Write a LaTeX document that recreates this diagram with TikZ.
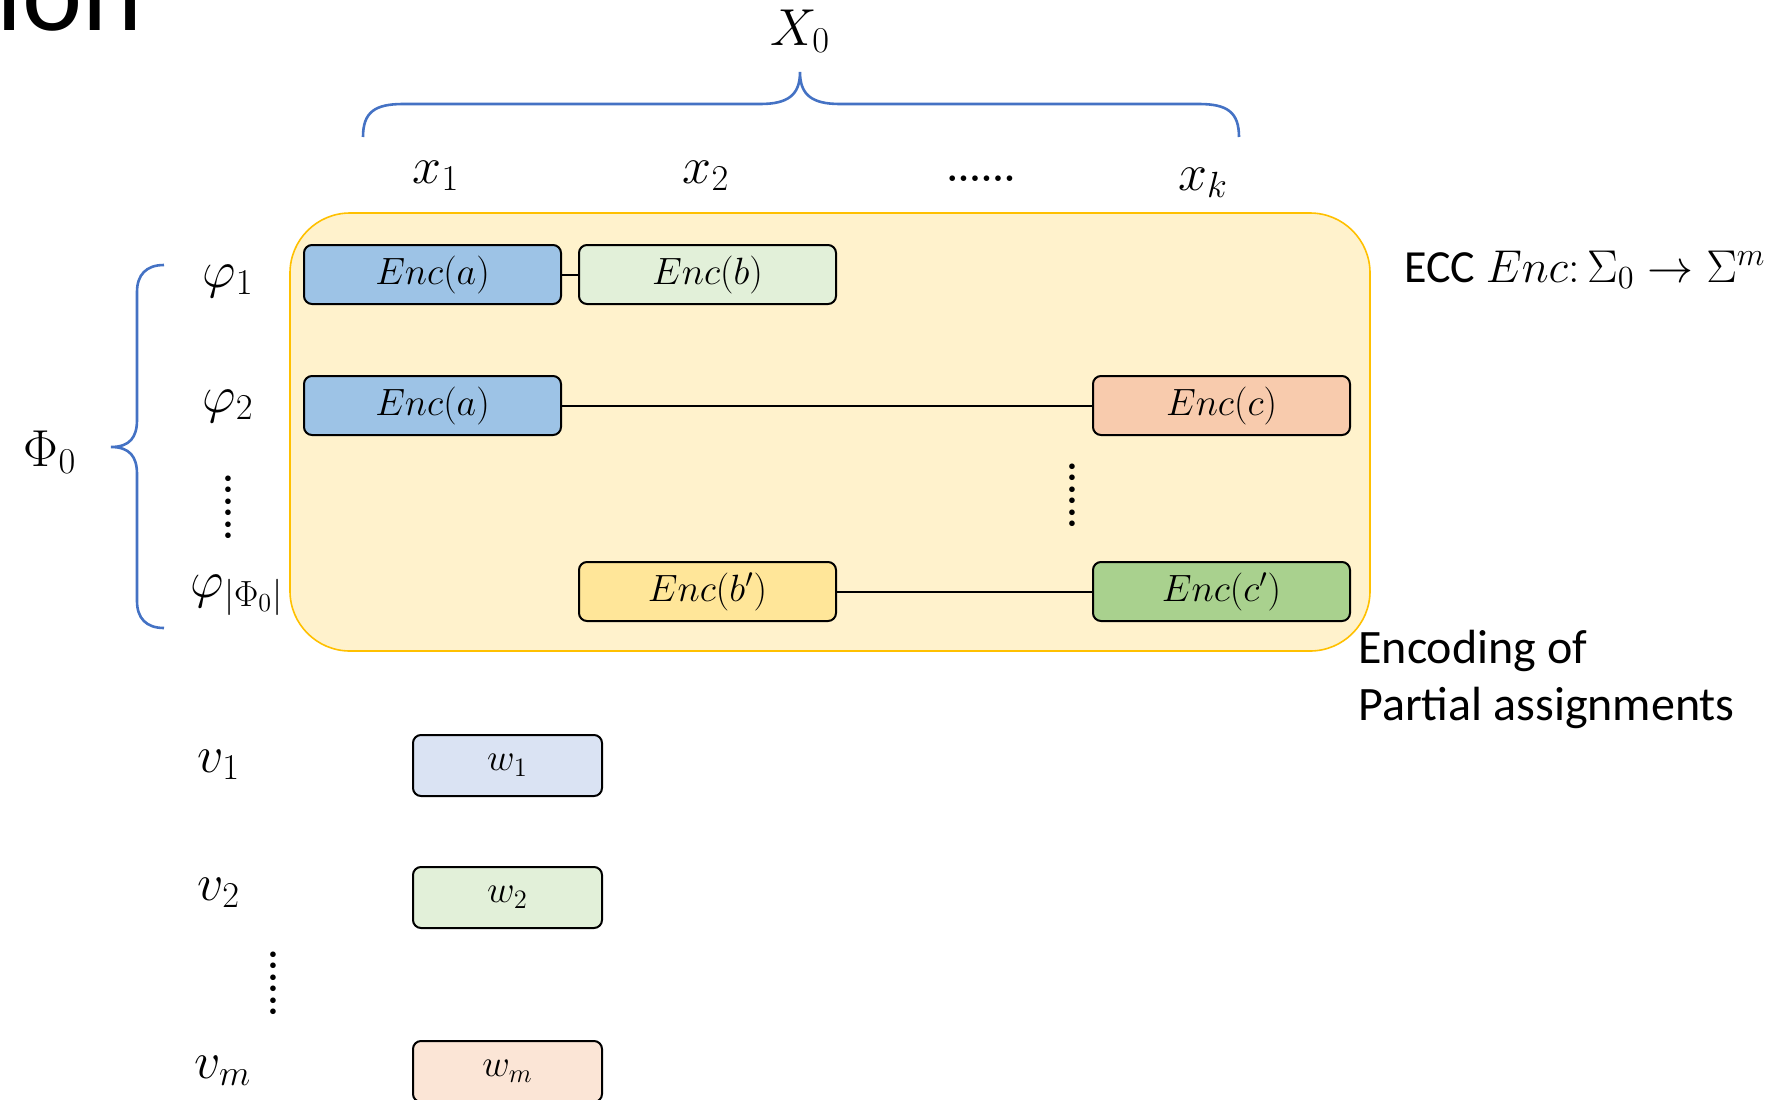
\RequirePackage{fix-cm}
\documentclass[tikz,border=0pt]{standalone}
\usepackage{amsmath}
\usepackage{amssymb}
\usepackage[no-math]{fontspec}
\setmainfont{Carlito}

\definecolor{assignfill}{HTML}{FFF2CC}
\definecolor{assigndraw}{HTML}{FFC000}
\definecolor{encblue}{HTML}{9DC3E6}
\definecolor{encgreen}{HTML}{E2F0D9}
\definecolor{encorange}{HTML}{F8CBAD}
\definecolor{encyellow}{HTML}{FFE699}
\definecolor{encdkgreen}{HTML}{A9D18E}
\definecolor{wblue}{HTML}{DAE3F3}
\definecolor{wpeach}{HTML}{FBE5D6}
\definecolor{bracecol}{HTML}{4472C4}

\begin{document}
\begin{tikzpicture}[x=0.5pt, y=-0.5pt,
            enc/.style={draw=black, line width=1pt, rounded corners=4pt, inner sep=0pt,
                minimum width=128.5pt, minimum height=29.5pt, font=\fontsize{19}{22}\selectfont},
            wbox/.style={enc, minimum width=94.5pt, minimum height=30.5pt},
            lab/.style={inner sep=0pt, anchor=base, font=\fontsize{26}{30}\selectfont},
            brace/.style={draw=bracecol, line width=1.3pt},
            link/.style={line width=1pt}]
            \useasboundingbox (0,0) rectangle (1790,1099);
            \node[anchor=base west, inner sep=0pt, font=\fontsize{57}{68}\selectfont] (title) at (-4,30) {ion};
            \node[draw=assigndraw, fill=assignfill, line width=0.8pt, rounded corners=30pt,
                minimum width=540pt, minimum height=219pt] (assign) at (830,432) {};
            \draw[brace] (363,137) .. controls (363,112) and (375,104) .. (403,104) -- (760,104)
                .. controls (788,104) and (800,95) .. (800,72) .. controls (800,95) and (812,104) .. (840,104)
                -- (1199,104) .. controls (1227,104) and (1239,112) .. (1239,137);
            \draw[brace] (164,265) .. controls (146,265) and (137,275) .. (137,292) -- (137,420)
                .. controls (137,437) and (130,447) .. (111,447) .. controls (130,447) and (137,457) .. (137,474)
                -- (137,601) .. controls (137,618) and (146,628) .. (164,628);
            \node[lab] (X0) at (800,45) {$X_0$};
            \node[lab] (x1) at (436,183) {$x_1$};
            \node[lab] (x2) at (706,183) {$x_2$};
            \node[lab, font=\fontsize{18}{20}\selectfont] (xdots) at (981,181) {$\boldsymbol{......}$};
            \node[lab] (xk) at (1203,190) {$x_k$};
            \node[lab] (Phi0) at (50,466) {$\Phi_0$};
            \node[lab] (phi1) at (228,287) {$\varphi_1$};
            \node[lab] (phi2) at (228,412) {$\varphi_2$};
            \node[lab, anchor=center, rotate=90, font=\fontsize{18}{20}\selectfont] (phidots) at (228,507) {$\boldsymbol{......}$};
            \node[lab] (phiN) at (237,597) {$\varphi_{|\Phi_0|}$};
            \node[enc, fill=encblue] (ea1) at (432.5,274.5) {$Enc(a)$};
            \node[enc, fill=encgreen] (eb1) at (707.5,274.5) {$Enc(b)$};
            \node[enc, fill=encblue] (ea2) at (432.5,405.5) {$Enc(a)$};
            \node[enc, fill=encorange] (ec2) at (1221.5,405.5) {$Enc(c)$};
            \node[lab, anchor=center, rotate=90, font=\fontsize{18}{20}\selectfont] (encdots) at (1072,495) {$\boldsymbol{......}$};
            \node[enc, fill=encyellow] (ebN) at (707.5,591.5) {$Enc(b')$};
            \node[enc, fill=encdkgreen] (ecN) at (1221.5,591.5) {$Enc(c')$};
            \draw[link] (ea1) -- (eb1);
            \draw[link] (ea2) -- (ec2);
            \draw[link] (ebN) -- (ecN);
            \node[lab, anchor=base west, font=\fontsize{23}{28}\selectfont] (ecc) at (1404,282) {ECC $Enc{:}\,\Sigma_0 \to \Sigma^m$};
            \node[anchor=north west, inner sep=0pt, align=left, font=\fontsize{24}{28.5}\selectfont] (enclab) at (1358,630)
                {Encoding of\\Partial assignments};
            \node[lab] (v1) at (219,772) {$v_1$};
            \node[lab] (v2) at (219,900) {$v_2$};
            \node[lab, anchor=center, rotate=90, font=\fontsize{18}{20}\selectfont] (vdots) at (273,983) {$\boldsymbol{......}$};
            \node[lab] (vm) at (223,1078) {$v_m$};
            \node[wbox, fill=wblue] (w1) at (507.5,765.5) {$w_1$};
            \node[wbox, fill=encgreen] (w2) at (507.5,897.5) {$w_2$};
            \node[wbox, fill=wpeach] (wm) at (507.5,1071.5) {$w_m$};
        \end{tikzpicture}
\end{document}
